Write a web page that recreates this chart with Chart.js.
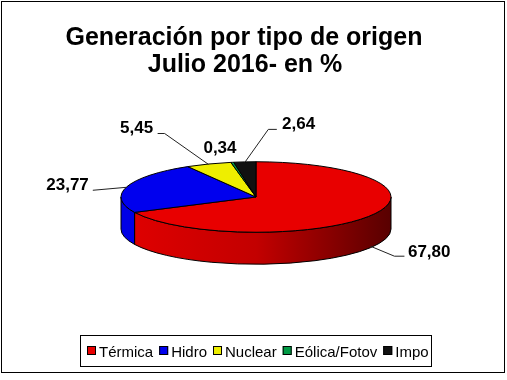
<!DOCTYPE html>
<html>
<head>
<meta charset="utf-8">
<script src="https://cdn.jsdelivr.net/npm/chart.js@4/dist/chart.umd.min.js"></script>
<style>
html,body{margin:0;padding:0;background:#fff;}
#wrap{width:507px;height:380px;position:relative;}
</style>
</head>
<body>
<div id="wrap"><canvas id="c" width="507" height="380"></canvas></div>
<script>
// ---- data ----
const titleLines = ['Generación por tipo de origen', 'Julio 2016- en %'];
const categories = ['Térmica', 'Hidro', 'Nuclear', 'Eólica/Fotov', 'Impo'];
const values = [67.80, 23.77, 5.45, 0.34, 2.64];
const colors = ['#E80000', '#0000EE', '#EEEE00', '#009A44', '#111111'];

// ---- styling / layout (not data) ----
const FONT = '"Liberation Sans", Arial, sans-serif';
const TILT = 0.261;   // vertical squash of the pie
const DEPTH = 32;     // thickness of pie
// label placement relative to slice anchor: text offset, alignment, leader elbow points
const labelSpecs = [
  {side: true, dx: 37.5, dy: 11.5, align: 'left', leader: [[0,0],[24,10],[34,10]]},
  {side: false, dx: -38, dy: 3, align: 'right', leader: [[0,0],[-34,3]]},
  {side: false, dx: -55.5, dy: -31, align: 'right', leader: [[0,0],[-44,-31],[-51,-31]]},
  {side: false, dx: -12.3, dy: -9.6, align: 'center', leader: null},
  {side: false, dx: 37.3, dy: -33, align: 'left', leader: [[0,0],[23.5,-33],[32,-33]]}
];

function shade(hex, f) {
  const n = parseInt(hex.slice(1), 16);
  const r = Math.round(((n >> 16) & 255) * f), g = Math.round(((n >> 8) & 255) * f), b = Math.round((n & 255) * f);
  return `rgb(${r},${g},${b})`;
}
function fmt(v) { return v.toFixed(2).replace('.', ','); }

const pie3d = {
  id: 'pie3d',
  beforeDatasetsDraw(chart) {
    const ctx = chart.ctx;
    const arcs = chart.getDatasetMeta(0).data;
    const cx = arcs[0].x, cy = arcs[0].y, R = arcs[0].outerRadius, ry = R * TILT;
    ctx.save();
    ctx.lineWidth = 1;
    ctx.strokeStyle = '#000';
    // side walls (front half only)
    arcs.forEach((a, i) => {
      const s = Math.max(a.startAngle, 0), e = Math.min(a.endAngle, Math.PI);
      if (e <= s) return;
      const grad = ctx.createLinearGradient(cx - R, 0, cx + R, 0);
      grad.addColorStop(0, shade(colors[i], 0.97));
      grad.addColorStop(0.5, shade(colors[i], 0.84));
      grad.addColorStop(1, shade(colors[i], 0.38));
      ctx.beginPath();
      ctx.ellipse(cx, cy, R, ry, 0, s, e, false);
      ctx.ellipse(cx, cy + DEPTH, R, ry, 0, e, s, true);
      ctx.closePath();
      ctx.fillStyle = grad;
      ctx.fill();
      ctx.stroke();
    });
    // top faces
    arcs.forEach((a, i) => {
      ctx.beginPath();
      ctx.moveTo(cx, cy);
      ctx.ellipse(cx, cy, R, ry, 0, a.startAngle, a.endAngle, false);
      ctx.closePath();
      ctx.fillStyle = colors[i];
      ctx.fill();
      ctx.stroke();
    });
    ctx.restore();
    return false;
  },
  afterDraw(chart) {
    const ctx = chart.ctx;
    const arcs = chart.getDatasetMeta(0).data;
    const cx = arcs[0].x, cy = arcs[0].y, R = arcs[0].outerRadius, ry = R * TILT;
    ctx.save();
    // outer frame
    ctx.strokeStyle = '#000';
    ctx.lineWidth = 1;
    ctx.strokeRect(1.5, 1.5, 503, 371);
    // title
    ctx.fillStyle = '#000';
    ctx.font = 'bold 25px ' + FONT;
    ctx.textAlign = 'center';
    ctx.textBaseline = 'alphabetic';
    ctx.fillText(titleLines[0], 244, 45);
    ctx.fillText(titleLines[1], 245, 72);
    // data labels
    ctx.font = 'bold 17px ' + FONT;
    arcs.forEach((a, i) => {
      const sp = labelSpecs[i];
      const mid = (a.startAngle + a.endAngle) / 2;
      const ax = cx + R * Math.cos(mid);
      const ay = cy + ry * Math.sin(mid) + (sp.side ? DEPTH - 2 : 0);
      if (sp.leader) {
        ctx.beginPath();
        ctx.strokeStyle = '#222';
        ctx.lineWidth = 1;
        sp.leader.forEach((p, k) => {
          const x = ax + p[0], y = ay + p[1] + 0.5;
          if (k === 0) ctx.moveTo(x, y); else ctx.lineTo(x, y);
        });
        ctx.stroke();
      }
      ctx.textAlign = sp.align;
      ctx.fillStyle = '#000';
      ctx.fillText(fmt(values[i]), ax + sp.dx, ay + sp.dy);
    });
    // legend
    ctx.strokeStyle = '#000';
    ctx.strokeRect(80.5, 335.5, 351, 31);
    ctx.font = '15px ' + FONT;
    ctx.textAlign = 'left';
    let x = 87;
    categories.forEach((c, i) => {
      ctx.fillStyle = colors[i];
      ctx.fillRect(x, 346, 9, 9);
      ctx.strokeStyle = '#000';
      ctx.strokeRect(x + 0.5, 346.5, 8, 8);
      x += 9 + 3;
      ctx.fillStyle = '#000';
      ctx.fillText(c, x, 357);
      x += ctx.measureText(c).width + 6;
    });
    ctx.restore();
  }
};

new Chart(document.getElementById('c'), {
  type: 'pie',
  data: {
    labels: categories,
    datasets: [{ data: values, backgroundColor: colors, borderWidth: 0 }]
  },
  options: {
    responsive: false,
    animation: false,
    events: [],
    radius: 135,
    layout: { padding: { left: 121, right: 116, top: 62, bottom: 48 } },
    plugins: { legend: { display: false }, title: { display: false }, tooltip: { enabled: false } }
  },
  plugins: [pie3d]
});
</script>
</body>
</html>
